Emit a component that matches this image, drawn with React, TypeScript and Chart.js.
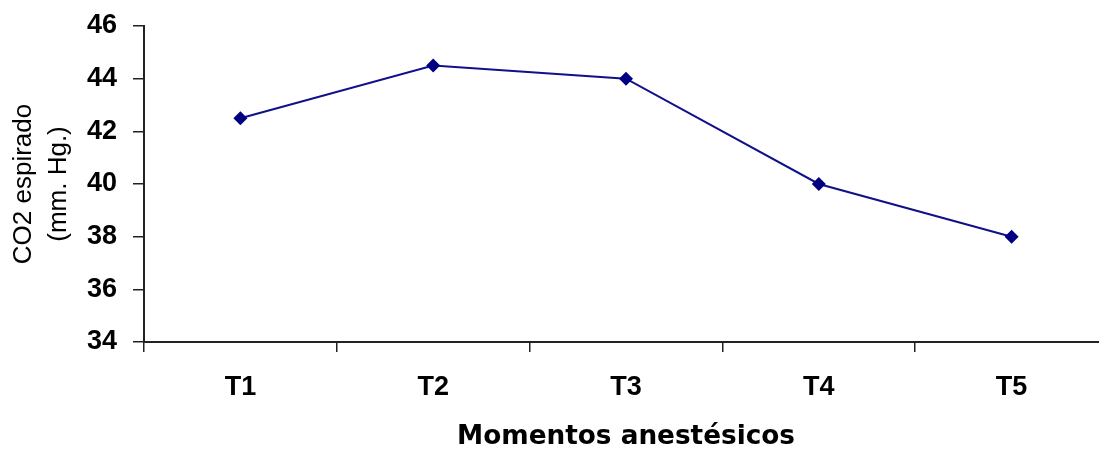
import React, { useEffect, useRef } from 'react';
import { Chart, registerables } from 'chart.js';

Chart.register(...registerables);

// ---- data ----
const categories = ['T1', 'T2', 'T3', 'T4', 'T5'];
const co2Values = [42.5, 44.5, 44.0, 40.0, 38.0];
const yTickValues = [34, 36, 38, 40, 42, 44, 46];
const yTitleLines = ['CO2 espirado', '(mm. Hg.)'];
const xTitle = 'Momentos anestésicos';

// the plot continues a little past the right edge of the window, as in the original
const CANVAS_W = 1116;
const CANVAS_H = 451;

export default function App() {
  const ref = useRef<HTMLCanvasElement>(null);

  useEffect(() => {
    const canvas = ref.current;
    if (!canvas) return;
    const axisColor = '#222';
    const chart = new Chart(canvas, {
      type: 'line',
      data: {
        labels: categories,
        datasets: [
          {
            data: co2Values,
            borderColor: '#10108a',
            backgroundColor: '#000080',
            borderWidth: 2,
            tension: 0,
            pointStyle: 'rectRot',
            pointRadius: 7,
            pointHoverRadius: 7,
            pointBorderWidth: 0,
            pointBackgroundColor: '#000080',
          },
        ],
      },
      options: {
        responsive: false,
        animation: false,
        devicePixelRatio: 1,
        events: [],
        layout: { padding: { top: 26, right: 8, bottom: 0, left: 0 } },
        plugins: {
          legend: { display: false },
          tooltip: { enabled: false },
        },
        scales: {
          x: {
            type: 'category',
            offset: true,
            grid: {
              offset: true,
              drawOnChartArea: false,
              drawTicks: true,
              tickLength: 10,
              color: axisColor,
              lineWidth: 1.5,
            },
            border: { display: true, color: axisColor, width: 2 },
            ticks: {
              padding: 19,
              color: '#000',
              maxRotation: 0,
              autoSkip: false,
              font: { family: '"Liberation Sans", Arial, sans-serif', size: 27, weight: 'bold' },
            },
            title: {
              display: true,
              text: xTitle,
              color: '#000',
              font: { family: '"DejaVu Sans", Verdana, sans-serif', size: 26.3, weight: 'bold', lineHeight: 1.05 },
              padding: { top: 0, bottom: 0 },
            },
            afterFit: (s: any) => {
              s.height = 109;
            },
          },
          y: {
            type: 'linear',
            min: 34,
            max: 46,
            afterBuildTicks: (s: any) => {
              s.ticks = yTickValues.map((v) => ({ value: v }));
            },
            grid: {
              drawOnChartArea: false,
              drawTicks: true,
              tickLength: 11,
              color: axisColor,
              lineWidth: 1.5,
            },
            border: { display: true, color: axisColor, width: 2 },
            ticks: {
              padding: 16,
              color: '#000',
              font: { family: '"Liberation Sans", Arial, sans-serif', size: 27, weight: 'bold', lineHeight: 0.6 },
            },
            title: {
              display: true,
              text: yTitleLines,
              color: '#000',
              font: { family: '"Liberation Sans", Arial, sans-serif', size: 26, weight: 'normal', lineHeight: '35px' },
              padding: { top: 6, bottom: 0 },
            },
            afterFit: (s: any) => {
              s.width = 144;
            },
          },
        },
      },
    } as any);
    return () => chart.destroy();
  }, []);

  return (
    <div
      style={{
        position: 'fixed',
        left: 0,
        top: 0,
        width: 1099,
        height: 451,
        overflow: 'hidden',
        background: '#fff',
      }}
    >
      <canvas
        ref={ref}
        width={CANVAS_W}
        height={CANVAS_H}
        style={{ width: `${CANVAS_W}px`, height: `${CANVAS_H}px`, display: 'block' }}
      />
    </div>
  );
}
